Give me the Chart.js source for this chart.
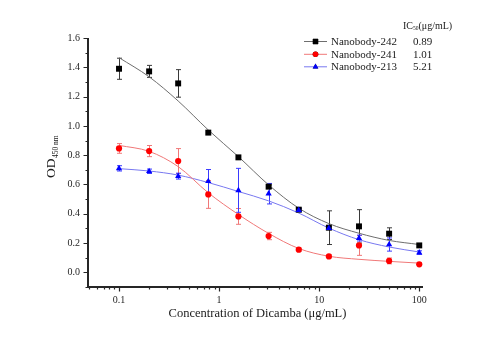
<!DOCTYPE html>
<html>
<head>
<meta charset="utf-8">
<script src="https://cdn.jsdelivr.net/npm/chart.js@4.4.1/dist/chart.umd.min.js"></script>
<style>
  html, body { margin: 0; padding: 0; background: #fff; }
  #wrap { width: 490px; height: 345px; }
</style>
</head>
<body>
<div id="wrap"><canvas id="icChart" width="490" height="345"></canvas></div>
<script>
// Dicamba concentrations (ug/mL), two-fold dilution series
const concentrations = [0.1, 0.2, 0.39, 0.78, 1.56, 3.125, 6.25, 12.5, 25, 50, 100];

// measured OD450 (mean) and error (SD)
const nb242 = [1.39, 1.372, 1.29, 0.954, 0.785, 0.585, 0.428, 0.305, 0.314, 0.264, 0.184];
const nb242Err = [0.072, 0.041, 0.094, 0.01, 0.012, 0.012, 0.01, 0.115, 0.114, 0.04, 0.012];
const nb241 = [0.846, 0.828, 0.76, 0.532, 0.382, 0.248, 0.155, 0.109, 0.184, 0.078, 0.055];
const nb241Err = [0.033, 0.038, 0.085, 0.095, 0.054, 0.025, 0.01, 0.01, 0.068, 0.02, 0.01];
const nb213 = [0.71, 0.69, 0.657, 0.622, 0.56, 0.537, 0.425, 0.302, 0.234, 0.19, 0.135];
const nb213Err = [0.018, 0.015, 0.02, 0.08, 0.15, 0.07, 0.012, 0.01, 0.02, 0.045, 0.012];

// fitted logistic curves, sampled at the same concentrations
const fit242 = [1.466, 1.335, 1.17, 0.972, 0.79, 0.597, 0.438, 0.333, 0.267, 0.218, 0.19];
const fit241 = [0.867, 0.826, 0.722, 0.543, 0.395, 0.266, 0.163, 0.11, 0.089, 0.075, 0.063];
const fit213 = [0.708, 0.692, 0.664, 0.613, 0.552, 0.488, 0.405, 0.302, 0.223, 0.173, 0.139];

const seriesNames = ['Nanobody-242', 'Nanobody-241', 'Nanobody-213'];
const ic50Values = ['0.89', '1.01', '5.21'];

const yTicks = [0, 0.2, 0.4, 0.6, 0.8, 1.0, 1.2, 1.4, 1.6];
const xTicks = [0.1, 1, 10, 100];

const SERIF = '"Liberation Serif", "Times New Roman", serif';
const AXIS = '#262626';

const looks = [
  { marker: '#000000', line: '#6e6e6e', err: '#3a3a3a', shape: 'rect', radius: 4.2 },
  { marker: '#ff0000', line: '#f07878', err: '#f07878', shape: 'circle', radius: 3.1 },
  { marker: '#0000ff', line: '#7878f0', err: '#3a3aff', shape: 'triangle', radius: 3.6 }
];
const means = [nb242, nb241, nb213];
const errs = [nb242Err, nb241Err, nb213Err];
const fits = [fit242, fit241, fit213];

function pts(ys) {
  return concentrations.map((x, i) => ({ x: x, y: ys[i] }));
}

const datasets = [];
// markers: blue on top, then red, then black
means.forEach((m, i) => {
  datasets.push({
    label: seriesNames[i],
    data: pts(m),
    showLine: false,
    pointStyle: looks[i].shape,
    pointRadius: looks[i].radius,
    backgroundColor: looks[i].marker,
    borderColor: looks[i].marker,
    borderWidth: 0,
    order: 3 - i
  });
});
fits.forEach((f, i) => {
  datasets.push({
    label: seriesNames[i] + ' fit',
    data: pts(f),
    showLine: true,
    pointRadius: 0,
    borderColor: looks[i].line,
    borderWidth: 1,
    cubicInterpolationMode: 'monotone',
    order: 10
  });
});

// error bars under everything
const errorBars = {
  id: 'errorBars',
  beforeDatasetsDraw(chart) {
    const { ctx, scales: { x, y } } = chart;
    ctx.save();
    ctx.lineWidth = 1;
    errs.forEach((e, i) => {
      ctx.strokeStyle = looks[i].err;
      concentrations.forEach((c, j) => {
        const px = Math.round(x.getPixelForValue(c)) + 0.5;
        const top = y.getPixelForValue(means[i][j] + e[j]);
        const bot = y.getPixelForValue(means[i][j] - e[j]);
        ctx.beginPath();
        ctx.moveTo(px, top); ctx.lineTo(px, bot);
        ctx.moveTo(px - 2.5, top); ctx.lineTo(px + 2.5, top);
        ctx.moveTo(px - 2.5, bot); ctx.lineTo(px + 2.5, bot);
        ctx.stroke();
      });
    });
    ctx.restore();
  }
};

// axis lines, major/minor ticks, titles and the legend with IC50 column
const frame = {
  id: 'frame',
  afterDraw(chart) {
    const { ctx, chartArea: a, scales: { x, y } } = chart;
    ctx.save();
    ctx.strokeStyle = AXIS;
    ctx.lineWidth = 2;
    ctx.beginPath();
    ctx.moveTo(a.left, a.top);
    ctx.lineTo(a.left, a.bottom);
    ctx.lineTo(a.right, a.bottom);
    ctx.stroke();

    ctx.lineWidth = 1.2;
    ctx.beginPath();
    for (let v = -0.1; v <= 1.601; v += 0.1) {
      const py = Math.round(y.getPixelForValue(v)) + 0.5;
      const major = Math.abs(Math.round(v * 10) % 2) === 0;
      ctx.moveTo(a.left, py);
      ctx.lineTo(a.left - (major ? 4.5 : 2.5), py);
    }
    for (let d = 0.01; d <= 100; d *= 10) {
      for (let k = 1; k <= 9; k++) {
        const v = d * k;
        if (v < x.min || v > x.max) continue;
        const px = Math.round(x.getPixelForValue(v)) + 0.5;
        ctx.moveTo(px, a.bottom);
        ctx.lineTo(px, a.bottom + (k === 1 ? 4.5 : 2.5));
      }
    }
    ctx.stroke();

    // axis titles
    ctx.fillStyle = '#1a1a1a';
    ctx.textAlign = 'center';
    ctx.textBaseline = 'alphabetic';
    ctx.font = '12.5px ' + SERIF;
    ctx.fillText('Concentration of Dicamba (\u03bcg/mL)', (a.left + a.right) / 2 + 2, 317);

    ctx.save();
    ctx.translate(55, 157);
    ctx.rotate(-Math.PI / 2);
    ctx.textAlign = 'left';
    ctx.font = '13.5px ' + SERIF;
    const od = 'OD';
    const wOd = ctx.measureText(od).width;
    ctx.font = '7.5px ' + SERIF;
    const sub = '450 nm';
    const wSub = ctx.measureText(sub).width;
    const start = -(wOd + wSub) / 2;
    ctx.font = '13.5px ' + SERIF;
    ctx.fillText(od, start, 0);
    ctx.font = '7.5px ' + SERIF;
    ctx.fillText(sub, start + wOd + 0.5, 2.5);
    ctx.restore();

    // legend
    ctx.textAlign = 'left';
    ctx.textBaseline = 'middle';
    ctx.font = '10px ' + SERIF;
    ctx.fillText('IC', 403, 26);
    let hx = 403 + ctx.measureText('IC').width;
    ctx.font = '5.5px ' + SERIF;
    ctx.fillText('50', hx, 29);
    hx += ctx.measureText('50').width;
    ctx.font = '10px ' + SERIF;
    ctx.fillText('(\u03bcg/mL)', hx, 26);

    const rows = [41.5, 54.3, 66.8];
    rows.forEach((ry, i) => {
      ctx.strokeStyle = looks[i].line;
      ctx.lineWidth = 1;
      ctx.beginPath();
      ctx.moveTo(304, ry);
      ctx.lineTo(327, ry);
      ctx.stroke();
      const lk = looks[i];
      Chart.helpers.drawPoint(ctx, {
        pointStyle: lk.shape, radius: lk.radius * 0.9, rotation: 0,
        borderWidth: 0
      }, 315.5, ry);
      ctx.fillStyle = lk.marker;
      ctx.fill();
      ctx.fillStyle = '#1a1a1a';
      ctx.font = '11px ' + SERIF;
      ctx.fillText(seriesNames[i], 331, ry + 0.5);
      ctx.fillText(ic50Values[i], 413, ry + 0.5);
    });
    ctx.restore();
  }
};

new Chart(document.getElementById('icChart'), {
  type: 'scatter',
  data: { datasets: datasets },
  options: {
    responsive: false,
    animation: false,
    devicePixelRatio: 1,
    layout: { padding: { left: 0, top: 38, right: 67, bottom: 0 } },
    plugins: { legend: { display: false }, tooltip: { enabled: false } },
    scales: {
      x: {
        type: 'logarithmic',
        min: 0.049,
        max: 109,
        grid: { display: false, drawTicks: false },
        border: { display: false },
        afterBuildTicks: s => { s.ticks = xTicks.map(v => ({ value: v })); },
        afterFit: s => { s.height = 58; },
        ticks: {
          padding: 7,
          color: '#262626',
          font: { family: SERIF, size: 10 },
          callback: v => String(v)
        }
      },
      y: {
        min: -0.1,
        max: 1.6,
        grid: { display: false, drawTicks: false },
        border: { display: false },
        afterBuildTicks: s => { s.ticks = yTicks.map(v => ({ value: v })); },
        afterFit: s => { s.width = 88; },
        ticks: {
          padding: 8,
          color: '#262626',
          font: { family: SERIF, size: 10 },
          callback: v => v.toFixed(1)
        }
      }
    }
  },
  plugins: [errorBars, frame]
});
</script>
</body>
</html>
